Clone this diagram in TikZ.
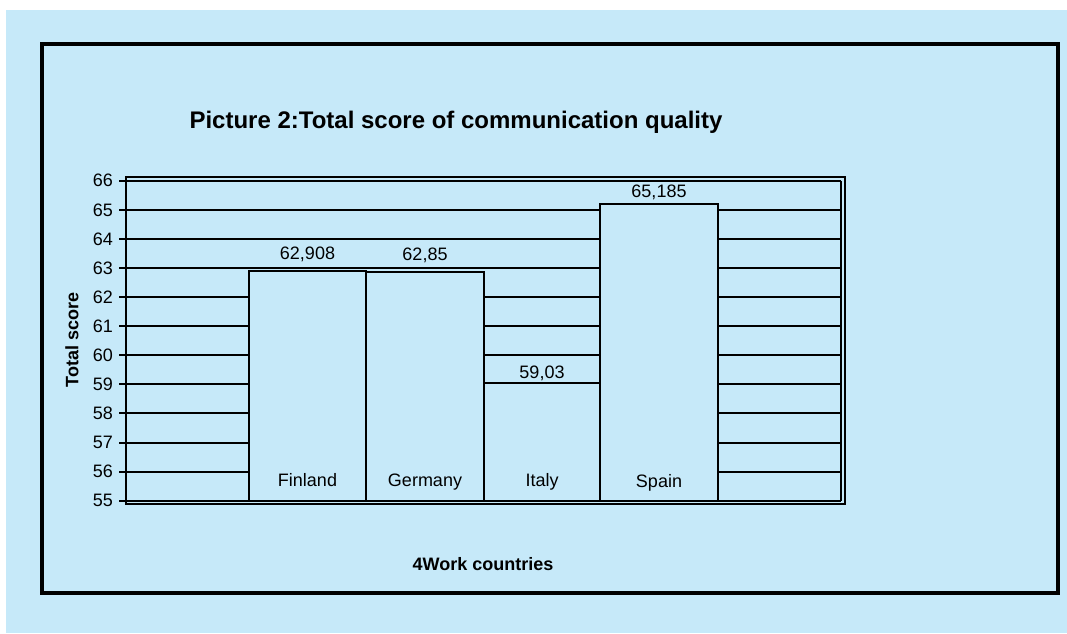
\documentclass[tikz,border=0pt]{standalone}
\usepackage{fontspec}
\setmainfont{Liberation Sans}
\definecolor{paleblue}{HTML}{C6E9F9}
\tikzset{
  gridline/.style={line width=2pt},
  bar/.style={draw, line width=2pt, fill=paleblue},
  ticklabel/.style={anchor=east, inner sep=0pt, font=\fontsize{18}{18}\selectfont},
  barlabel/.style={anchor=base, inner sep=0pt, font=\fontsize{18}{18}\selectfont},
  axistitle/.style={inner sep=0pt, font=\fontsize{18}{18}\selectfont\bfseries}
}
\begin{document}
\begin{tikzpicture}[x=1pt,y=-1pt]
      \useasboundingbox (0,0) rectangle (1067,633);
      \fill[paleblue] (6,10) rectangle (1067,633);
      \draw[line width=4pt] (42,44) rectangle (1058,593);
      \node[inner sep=0pt, font=\fontsize{24}{24}\selectfont\bfseries] (title) at (456,122)
        {Picture 2:Total score of communication quality};
      % grid and ticks
      \foreach \v in {55,...,66}{
        \pgfmathsetmacro\yy{500.7-(\v-55)*29.09}
        \draw[gridline] (119,\yy) -- (841,\yy);
        \node[ticklabel] (tick\v) at (113,\yy) {\v};
      }
      \draw[gridline] (126,177) rectangle (845,504);
      \draw[gridline] (841,180.6) -- (841,500.7);
      % bars
      \foreach \name/\xl/\xr/\val/\txt/\ly in {
        finland/249/366/62.908/{62,908}/259,
        germany/366/484/62.85/{62,85}/260.7,
        italy/484/600/59.03/{59,03}/378.7,
        spain/600/718/65.185/{65,185}/197.3
      }{
        \pgfmathsetmacro\yt{500.7-(\val-55)*29.09}
        \draw[bar] (\xl,500.7) rectangle (\xr,\yt);
        \node[barlabel] (val-\name) at ({(\xl+\xr)/2},\ly) {\txt};
      }
      \node[barlabel] (cat-finland) at (307.5,486) {Finland};
      \node[barlabel] (cat-germany) at (425,486) {Germany};
      \node[barlabel] (cat-italy) at (542,486) {Italy};
      \node[barlabel] (cat-spain) at (659,487) {Spain};
      \node[axistitle, rotate=90] (ytitle) at (72,340) {Total score};
      \node[axistitle] (xtitle) at (483,564) {4Work countries};
    \end{tikzpicture}
\end{document}
